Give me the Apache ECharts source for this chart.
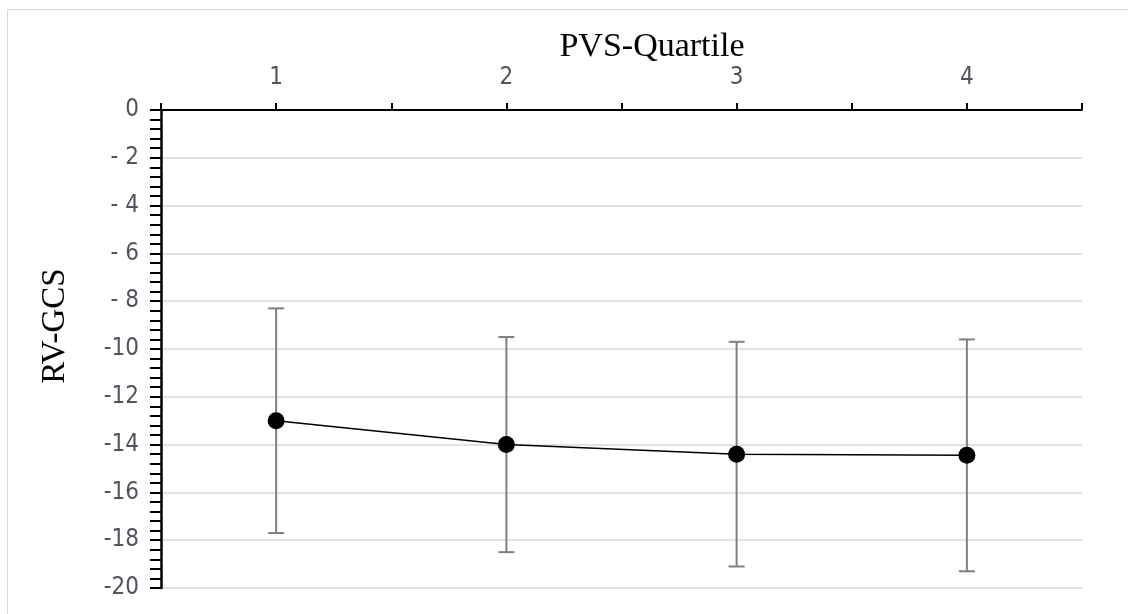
<!DOCTYPE html>
<html>
<head>
<meta charset="utf-8">
<script src="https://cdn.jsdelivr.net/npm/echarts@6/dist/echarts.min.js"></script>
<style>
    html, body { margin: 0; padding: 0; background: #fff; }
    #myChart { width: 1128px; height: 614px; }
</style>
</head>
<body>
<div id="myChart"></div>
<script>
    // PVS quartile vs RV-GCS, mean with error bars
    var quartiles = [1, 2, 3, 4];
    var meanValues = [-13.0, -14.0, -14.4, -14.45];
    var upperValues = [-8.3, -9.5, -9.7, -9.6];
    var lowerValues = [-17.7, -18.5, -19.1, -19.3];

    var tickFont = "'Liberation Sans Narrow', 'DejaVu Sans Condensed', 'Roboto', sans-serif";

    var meanData = quartiles.map(function (q, i) { return [q, meanValues[i]]; });
    var errData = quartiles.map(function (q, i) { return [q, upperValues[i], lowerValues[i]]; });

    var myChart = echarts.init(document.getElementById('myChart'));

    var option = {
        backgroundColor: '#fff',
        animation: false,
        title: {
            text: 'PVS-Quartile',
            left: 647,
            textAlign: 'center',
            top: 25,
            textStyle: {
                fontFamily: "'Liberation Serif', 'DejaVu Serif', serif",
                fontWeight: 'normal',
                fontSize: 34,
                color: '#000'
            }
        },
        graphic: [
            {
                type: 'rect',
                shape: { x: 7.5, y: 9.5, width: 1200, height: 700 },
                style: { fill: 'none', stroke: '#d9d9d9', lineWidth: 1 },
                silent: true,
                z: -10
            },
            {
                type: 'text',
                x: 55,
                y: 326,
                rotation: Math.PI / 2,
                style: {
                    text: 'RV-GCS',
                    fontFamily: "'Liberation Serif', 'DejaVu Serif', serif",
                    fontSize: 33,
                    fill: '#000',
                    align: 'center',
                    verticalAlign: 'middle'
                }
            }
        ],
        grid: {
            left: 161,
            right: 46,
            top: 110,
            bottom: 26
        },
        xAxis: {
            type: 'value',
            position: 'top',
            min: 0.5,
            max: 4.5,
            interval: 0.5,
            axisLine: { show: true, lineStyle: { color: '#000', width: 2 } },
            axisTick: { show: true, length: 7, lineStyle: { color: '#000', width: 2 } },
            splitLine: { show: false },
            axisLabel: {
                margin: 20,
                fontFamily: tickFont,
                fontSize: 24,
                color: '#50545f',
                formatter: function (v) {
                    return Number.isInteger(v) ? String(v) : '';
                }
            }
        },
        yAxis: {
            type: 'value',
            min: -20,
            max: 0,
            interval: 2,
            axisLine: { show: true, lineStyle: { color: '#000', width: 2.5 } },
            axisTick: { show: true, length: 11, lineStyle: { color: '#000', width: 2 } },
            minorTick: { show: true, splitNumber: 5, length: 11, lineStyle: { color: '#000', width: 2 } },
            splitLine: { show: true, lineStyle: { color: '#d9d9d9', width: 1.5 } },
            axisLabel: {
                margin: 22,
                fontFamily: tickFont,
                fontSize: 24,
                color: '#50545f',
                formatter: function (v) {
                    if (v === 0) return '0';
                    var a = Math.abs(v);
                    return a < 10 ? '- ' + a : '-' + a;
                }
            }
        },
        series: [
            {
                name: 'error',
                type: 'custom',
                z: 1,
                data: errData,
                renderItem: function (params, api) {
                    var x = api.value(0);
                    var top = api.coord([x, api.value(1)]);
                    var bot = api.coord([x, api.value(2)]);
                    var half = 8;
                    var st = { stroke: '#7f7f7f', lineWidth: 2 };
                    return {
                        type: 'group',
                        children: [
                            { type: 'line', shape: { x1: top[0], y1: top[1], x2: bot[0], y2: bot[1] }, style: st },
                            { type: 'line', shape: { x1: top[0] - half, y1: top[1], x2: top[0] + half, y2: top[1] }, style: st },
                            { type: 'line', shape: { x1: bot[0] - half, y1: bot[1], x2: bot[0] + half, y2: bot[1] }, style: st }
                        ]
                    };
                }
            },
            {
                name: 'mean',
                type: 'line',
                z: 3,
                data: meanData,
                symbol: 'circle',
                symbolSize: 17,
                lineStyle: { color: '#000', width: 1.5 },
                itemStyle: { color: '#000' }
            }
        ]
    };

    myChart.setOption(option);
</script>
</body>
</html>
